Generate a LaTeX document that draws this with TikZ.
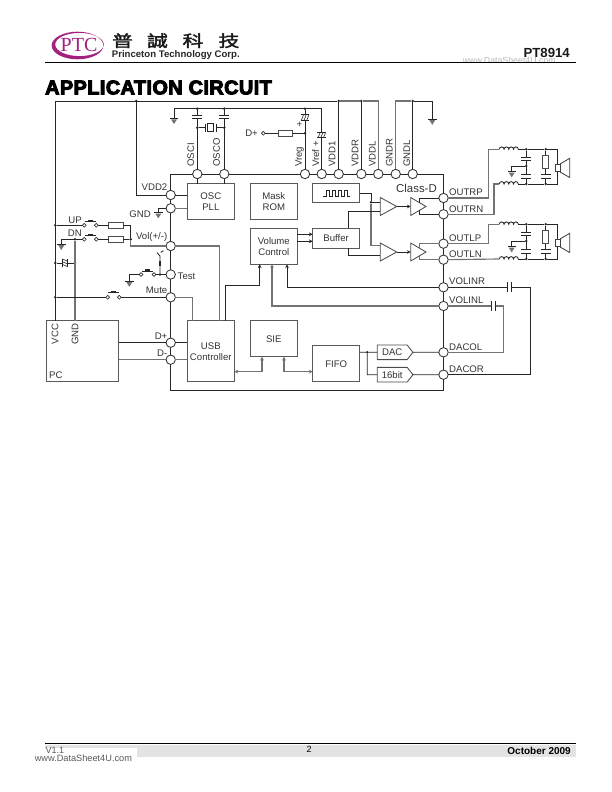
\documentclass[tikz,border=0pt]{standalone}
\usepackage{fontspec}
\setmainfont{Liberation Sans}
\newfontfamily\cjkfont[FakeBold=2]{Noto Sans CJK TC}
\newfontfamily\titlefont[BoldFeatures={FakeBold=5},LetterSpace=2.4]{Liberation Sans}
\usetikzlibrary{arrows.meta,shapes.symbols}
\newcommand{\lblfont}{\fontsize{9.6}{11}\selectfont}
\definecolor{logomag}{HTML}{A3217F}
\tikzset{
	wire/.style={draw=black!85,line width=0.85pt},
	greywire/.style={draw=black!55,line width=1.15pt},
	sig/.style={-{Stealth[length=3.8pt,width=3.8pt]}},
	bothsig/.style={{Stealth[length=3.8pt,width=3.8pt]}-{Stealth[length=3.8pt,width=3.8pt]}},
	block/.style={draw=black!65,line width=1pt,minimum width=47pt,align=center,inner sep=0pt,outer sep=0pt,font=\lblfont,text=black!80},
	pin/.style={circle,draw=black!80,fill=white,line width=0.85pt,minimum size=9.4pt,inner sep=0pt,outer sep=0pt},
	lbl/.style={font=\lblfont,inner sep=0pt,text=black!80},
	dot/.style={circle,fill=black!85,minimum size=2.8pt,inner sep=0pt,outer sep=0pt},
	contact/.style={circle,draw=black!80,fill=white,line width=0.65pt,minimum size=3.8pt,inner sep=0pt,outer sep=0pt},
	res/.style={draw=black!70,fill=white,line width=0.85pt,minimum width=14.5pt,minimum height=6.2pt,inner sep=0pt,outer sep=0pt},
	shaper/.style={signal,signal to=east,signal pointer angle=104,draw=black!70,line width=0.85pt,fill=white,minimum width=35.7pt,minimum height=14.6pt,inner sep=0pt,outer sep=0pt,font=\lblfont,text=black!80},
	cap/.pic={
		\fill[white] (-5,-1.9) rectangle (5,1.9);
		\draw[wire] (-5,-1.9)--(5,-1.9) (-5,1.9)--(5,1.9);
	},
	hatchcap/.pic={
		\fill[white] (-4.4,-2.8) rectangle (4.4,2.8);
		\draw[wire] (-4.4,-2.8)--(4.4,-2.8) (-4.4,2.8)--(4.4,2.8);
		\draw[wire,line width=0.6pt] (-3.6,2.8)--(-1.4,-2.8) (-0.9,2.8)--(1.3,-2.8) (1.8,2.8)--(4,-2.8);
	},
	gndsym/.pic={
		\draw[wire] (-4.2,0)--(4.2,0);
		\fill[black!55] (-3,1)--(3,1)--(0,5.8)--cycle;
	},
	pushbar/.pic={
		\draw[wire,line width=0.6pt] (-5.5,0)--(5.5,0);
		\fill[black!85] (-2.6,-1.8) rectangle (2.6,0);
	},
	coil/.pic={
		\draw[wire] (-9.5,0) arc [start angle=180,end angle=0,radius=2.375pt]
			arc [start angle=180,end angle=0,radius=2.375pt]
			arc [start angle=180,end angle=0,radius=2.375pt]
			arc [start angle=180,end angle=0,radius=2.375pt];
	},
	crystal/.pic={
		\fill[white] (-5.5,-4) rectangle (5.5,4);
		\draw[wire] (-5.3,-4)--(-5.3,4) (5.3,-4)--(5.3,4);
		\draw[wire] (-3,-3.9) rectangle (3,3.9);
	}
}
\begin{document}
\begin{tikzpicture}[x=1pt,y=-1pt]

		\useasboundingbox (0,0) rectangle (612,792);

		\fill[logomag,even odd rule] (77.5,45.5) ellipse [x radius=25.8pt,y radius=13.8pt] (79.5,44.5) ellipse [x radius=24.3pt,y radius=11.6pt];
		\node[inner sep=0pt,text=logomag] (logo) at (79,45) {\fontspec{Liberation Serif}\fontsize{20}{20}\selectfont PTC};
		\foreach \cname/\cx/\ctext in {puA/122.5/普,puB/157.5/誠,puC/193/科,puD/229/技}{
			\node[inner sep=0pt,text=black!90,xscale=1.3] (\cname) at (\cx,40.7) {\cjkfont\fontsize{16}{16}\selectfont \ctext};
		}
		\node[anchor=west,inner sep=0pt,text=black!85] (corp) at (111.7,55) {\fontsize{9.6}{10}\selectfont\bfseries Princeton Technology Corp.};
		\node[anchor=east,inner sep=0pt,text=black!90] (part) at (570,52.5) {\fontsize{13.2}{14}\selectfont\bfseries PT8914};
		\node[anchor=east,inner sep=0pt,text=black!28] (markA) at (556,60.8) {\fontsize{8.8}{9}\selectfont www.DataSheet4U.com};
		\coordinate (ruleA) at (45,62.3);
		\coordinate (ruleB) at (576,62.3);
		\draw[black,line width=0.8pt] (ruleA)--(ruleB);
		\node[anchor=west,inner sep=0pt] (title) at (45,87.5) {\titlefont\bfseries\fontsize{19.8}{20}\selectfont APPLICATION CIRCUIT};

		\coordinate (icA) at (170.7,174);
		\coordinate (icB) at (443.5,390.3);
		\draw[wire] (icA) rectangle (icB);

		\foreach \pname/\px in {OSCI/197.3,OSCO/224.3,Vreg/305,Vref/321.7,VDDa/338.7,VDDR/361.3,VDDL/378.3,GNDR/395.7,GNDL/412.7}{
			\node[pin] (\pname) at (\px,174) {};
		}
		\foreach \pname/\py in {VDDb/195,pGND/208.3,Vol/246,Test/274.5,Mute/297.3,Dp/342.7,Dm/359.7}{
			\node[pin] (\pname) at (170.7,\py) {};
		}
		\foreach \pname/\py in {OUTRP/198,OUTRN/214.3,OUTLP/243.7,OUTLN/259.7,VOLINR/287.3,VOLINL/306,DACOL/352.3,DACOR/374.7}{
			\node[pin] (\pname) at (443.5,\py) {};
		}

		\foreach \tname/\tx/\ttext in {tOSCI/190.7/OSCI,tOSCO/216.5/OSCO,tVreg/299.5/Vreg,tVref/315.7/Vref +,tVDDa/332/VDD1,tVDDR/355/VDDR,tVDDL/372.3/VDDL,tGNDR/389.3/GNDR,tGNDL/406.7/GNDL}{
			\node[lbl,rotate=90,anchor=west] (\tname) at (\tx,167) {\ttext};
		}
		\foreach \tname/\ty/\ttext in {tOUTRP/192.3/OUTRP,tOUTRN/209/OUTRN,tOUTLP/237.7/OUTLP,tOUTLN/254.3/OUTLN,tVOLINR/281/VOLINR,tVOLINL/300.3/VOLINL,tDACOL/346.7/DACOL,tDACOR/369/DACOR}{
			\node[lbl,anchor=west] (\tname) at (449,\ty) {\ttext};
		}
		\foreach \tname/\ty/\ttext in {tVDDb/187.3/VDD2,tVol/236.7/{Vol(+/-)},tMute/290.7/Mute,tDp/336/D+,tDm/353.3/D-}{
			\node[lbl,anchor=east] (\tname) at (167.5,\ty) {\ttext};
		}
		\node[lbl,anchor=east] (tGNDp) at (151,214) {GND};
		\node[lbl,anchor=west] (tTest) at (177.5,276) {Test};
		\node[lbl,anchor=east] (tUP) at (82,220) {UP};
		\node[lbl,anchor=east] (tDN) at (82,233.3) {DN};
		\node[lbl,anchor=east] (tDplus) at (258,133.3) {D+};
		\node[lbl] (tPlus) at (299.5,125) {+};
		\node[lbl,anchor=west] (tClass) at (396,188.3) {\fontsize{11.4}{12}\selectfont Class-D};

		\node[block,minimum height=35.7pt] (OSC) at (210.8,201.8) {OSC\\PLL};
		\node[block,minimum height=35.7pt] (Mask) at (273.8,201.8) {Mask\\ROM};
		\node[block,minimum height=18.7pt] (Clock) at (336.2,193.3) {};
		\node[block,minimum height=36pt] (Volume) at (273.8,246.3) {Volume\\Control};
		\node[block,minimum height=20pt] (Buffer) at (336.2,238.3) {Buffer};
		\node[block,minimum height=61pt] (USB) at (210.8,351.2) {USB\\Controller};
		\node[block,minimum height=36pt] (SIE) at (273.8,338.7) {SIE};
		\node[block,minimum height=36pt] (FIFO) at (336.2,363.7) {FIFO};
		\node[block,minimum width=72.4pt,minimum height=61pt] (PC) at (82.5,351.2) {};
		\node[lbl,rotate=90] (tVCC) at (55,334) {VCC};
		\node[lbl,rotate=90] (tGND) at (75,334) {GND};
		\node[lbl,anchor=west] (tPC) at (49,375) {PC};
		\node[shaper] (DAC) at (392.2,352.3) {DAC\hspace{3pt}};
		\node[shaper] (Bit) at (392.2,374.7) {16bit\hspace{3pt}};

		\draw[wire,line width=0.7pt] (323.3,196)--(326,196)--(326,190.7)--(329,190.7)--(329,196)--(332,196)--(332,190.7)--(335,190.7)--(335,196)--(338,196)--(338,190.7)--(341,190.7)--(341,196)--(344,196)--(344,190.7)--(347,190.7)--(347,196)--(350,196);

		\coordinate (vccTop) at (55.3,101);
		\coordinate (gndTop) at (395.7,101);
		\coordinate (gndTopR) at (432.3,101);
		\coordinate (gndTopS) at (432.3,119);
		\coordinate (rail) at (174,108.7);
		\coordinate (railS) at (174,118.3);
		\node[dot] (dVDDb) at (136.3,101) {};
		\node[dot] (dVDDa) at (338.7,101) {};
		\node[dot] (dVDDR) at (361.3,101) {};
		\node[dot] (dGNDL) at (412.7,101) {};
		\node[dot] (dOSCI) at (197.3,108.7) {};
		\node[dot] (dOSCO) at (224.3,108.7) {};
		\node[dot] (dVreg) at (305,108.7) {};
		\node[dot] (dXa) at (197.3,127.7) {};
		\node[dot] (dXb) at (224.3,127.7) {};
		\node[dot] (dDp) at (305,133.3) {};
		\node[contact] (cDp) at (263.3,133.3) {};
		\node[res] (rDp) at (285.5,133.3) {};

		\draw[wire] (PC.north-|vccTop)--(vccTop)--(dVDDa);
		\draw[greywire] (dVDDa)--(dVDDR)--(VDDL|-vccTop)--(VDDL);
		\draw[wire] (dVDDb)--(dVDDb|-VDDb)--(VDDb);
		\draw[wire] (dVDDa)--(VDDa);
		\draw[wire] (dVDDR)--(VDDR);
		\draw[greywire] (GNDR)--(gndTop)--(dGNDL);
		\draw[wire] (dGNDL)--(gndTopR)--(gndTopS);
		\draw[wire] (dGNDL)--(GNDL);
		\draw[wire] (railS)--(rail)--(Vref|-rail)--(Vref);
		\draw[wire] (dOSCI)--(OSCI);
		\draw[wire] (dOSCO)--(OSCO);
		\draw[wire] (dVreg)--(Vreg);
		\draw[wire] (dXa)--(dXb);
		\draw[wire] (cDp)--(rDp)--(dDp);
		\draw[wire] (OSCI)--(OSCI|-OSC.north);
		\draw[wire] (OSCO)--(OSCO|-OSC.north);
		\draw[wire] (VDDb)--(VDDb-|OSC.west);
		\draw[greywire] (pGND)--(pGND-|OSC.west);
		\pic at (197.3,117) {cap};
		\pic at (224.3,117) {cap};
		\pic at (210.7,127.7) {crystal};
		\pic at (305,117.3) {hatchcap};
		\pic at (321.7,135) {hatchcap};
		\pic at (railS) {gndsym};
		\pic at (gndTopS) {gndsym};

		\coordinate (gp) at (158.3,208.3);
		\coordinate (gpS) at (158.3,212.5);
		\draw[wire] (pGND)--(gp)--(gpS);
		\pic at (gpS) {gndsym};

		\node[dot] (dUP) at (55.3,225.3) {};
		\node[dot] (dCapL) at (55.3,263) {};
		\node[dot] (dMute) at (55.3,297.3) {};
		\node[dot] (dDN) at (75,239.3) {};
		\node[dot] (dCapR) at (75,263) {};
		\node[dot] (dVol) at (130.7,239.3) {};
		\node[contact] (cUPa) at (84.3,225.3) {};
		\node[contact] (cUPb) at (96.3,225.3) {};
		\node[contact] (cDNa) at (84.3,239.3) {};
		\node[contact] (cDNb) at (96.3,239.3) {};
		\node[contact] (cTesta) at (141,274.5) {};
		\node[contact] (cTestb) at (154,274.5) {};
		\node[contact] (cMutea) at (107.7,297.3) {};
		\node[contact] (cMuteb) at (119.3,297.3) {};
		\node[res] (rUP) at (115.8,225.3) {};
		\node[res] (rDN) at (115.8,239.3) {};
		\node[dot] (dTest) at (160,274.5) {};
		\coordinate (volT) at (130.7,225.3);
		\coordinate (volB) at (130.7,246);
		\coordinate (gDN) at (61.3,239.3);
		\coordinate (gDNs) at (61.3,244.2);
		\coordinate (gTest) at (129.3,274.5);
		\coordinate (gTests) at (129.3,281);
		\coordinate (jmpA) at (160,256);
		\coordinate (jmpB) at (157,252.6);
		\coordinate (jmpC) at (160.8,252.4);
		\coordinate (jmpD) at (163.4,250.6);

		\draw[greywire] (dDN)--(PC.north-|dDN);
		\draw[wire] (dUP)--(cUPa);
		\draw[wire] (cUPb)--(rUP)--(volT)--(dVol);
		\draw[greywire] (dVol)--(volB)--(Vol);
		\draw[wire] (gDNs)--(gDN)--(cDNa);
		\draw[wire] (cDNb)--(rDN)--(dVol);
		\draw[wire] (dCapL)--(dCapR);
		\draw[wire] (dMute)--(cMutea);
		\draw[wire] (cMuteb)--(Mute);
		\draw[wire] (Test)--(dTest)--(cTestb);
		\draw[wire] (cTesta)--(gTest)--(gTests);
		\draw[wire] (dTest)--(jmpA)--(jmpB);
		\draw[wire] (jmpC)--(jmpD);
		\fill[black!85] (159,261) rectangle (161,266);
		\pic[rotate=90] at (65,263) {hatchcap};
		\pic at (gDNs) {gndsym};
		\pic at (gTests) {gndsym};
		\pic at (90.3,221.3) {pushbar};
		\pic at (90.3,235.3) {pushbar};
		\pic at (147.5,270.8) {pushbar};
		\pic at (113.5,292.5) {pushbar};

		\coordinate (usbM) at (192.7,320.7);
		\coordinate (usbV) at (219.3,320.7);
		\coordinate (usbU) at (225,320.7);
		\coordinate (volA) at (259.7,285.3);
		\coordinate (inL) at (272,264.3);
		\coordinate (inR) at (287,264.3);
		\coordinate (bufA) at (312.7,234.3);
		\coordinate (bufB) at (312.7,241.3);
		\coordinate (sieL) at (262,371.7);
		\coordinate (sieR) at (284,371.7);

		\draw[greywire] (Vol)-|(usbV);
		\draw[greywire] (Mute)-|(usbM);
		\draw[wire] (usbU)|-(volA);
		\draw[wire,sig] (volA)--(volA|-Volume.south);
		\draw[greywire,sig] (VOLINL)-|(inL);
		\draw[wire,sig] (VOLINR)-|(inR);
		\draw[wire,sig] (Volume.east|-bufA)--(bufA);
		\draw[wire,sig] (Volume.east|-bufB)--(bufB);
		\draw[wire] (PC.east|-Dp)--(Dp);
		\draw[wire] (Dp)--(Dp-|USB.west);
		\draw[greywire] (PC.east|-Dm)--(Dm);
		\draw[greywire] (Dm)--(Dm-|USB.west);
		\draw[greywire,bothsig] (USB.east|-sieL)--(sieL)--(sieL|-SIE.south);
		\draw[greywire,bothsig] (sieR|-SIE.south)--(sieR)--(sieR-|FIFO.west);

		\foreach \an/\ay in {R/206.5,L/252}{
			\coordinate (amp\an) at (380.3,\ay);
			\coordinate (ampTip\an) at (396.7,\ay);
			\coordinate (drv\an) at (410.7,\ay);
			\draw[wire,sig] (ampTip\an)--(drv\an);
			\draw[draw=black!70,line width=0.85pt] (380.3,\ay-9)--(ampTip\an)--(380.3,\ay+9)--cycle;
			\draw[draw=black!70,line width=0.85pt] (410.7,\ay-9)--(426,\ay)--(410.7,\ay+9)--cycle;
		}
		\coordinate (clkJ) at (371,193.3);
		\coordinate (clkB) at (371,245.3);
		\coordinate (ampRa) at (380.3,202.3);
		\coordinate (ampLa) at (380.3,245.3);
		\coordinate (ampRb) at (380.3,211);
		\coordinate (ampLb) at (380.3,255.3);
		\coordinate (bufT) at (348.3,211);
		\coordinate (bufD) at (348.3,255.3);
		\coordinate (stubRP) at (419.3,202.6);
		\coordinate (stubRN) at (419.3,210.4);
		\coordinate (stubLP) at (419.3,248.1);
		\coordinate (stubLN) at (419.3,255.9);
		\node[dot] (dClk) at (371,202.3) {};
		\draw[wire] (Clock.east|-clkJ)--(clkJ)--(dClk);
		\draw[greywire] (dClk)--(clkB)--(ampLa);
		\draw[wire] (dClk)--(ampRa);
		\draw[wire] (Buffer.north-|bufT)--(bufT)--(ampRb);
		\draw[wire] (Buffer.south-|bufD)--(bufD)--(ampLb);
		\draw[wire] (stubRP)|-(OUTRP);
		\draw[wire] (stubRN)|-(OUTRN);
		\draw[greywire] (stubLP)|-(OUTLP);
		\draw[greywire] (stubLN)|-(OUTLN);

		\foreach \oy/\sn in {0/R,75/L}{
			\begin{scope}[shift={(0,\oy)}]
				\coordinate (coilTa\sn) at (499.3,149.3);
				\coordinate (coilTb\sn) at (518.3,149.3);
				\coordinate (coilBa\sn) at (499.3,184);
				\coordinate (coilBb\sn) at (518.3,184);
				\coordinate (spkT\sn) at (557.7,149.3);
				\coordinate (spkB\sn) at (557.7,184);
				\coordinate (gS\sn) at (511.7,166);
				\coordinate (gSs\sn) at (511.7,171.5);
				\node[dot] (dA\sn) at (526.3,149.3) {};
				\node[dot] (dB\sn) at (545.7,149.3) {};
				\node[dot] (dC\sn) at (526.3,184) {};
				\node[dot] (dD\sn) at (545.7,184) {};
				\node[dot] (dE\sn) at (526.3,166) {};
				\node[res,minimum width=6.4pt,minimum height=13.7pt] (rS\sn) at (545.7,162) {};
				\node[draw=black!75,fill=white,line width=0.85pt,minimum width=4.7pt,minimum height=7.7pt,inner sep=0pt,outer sep=0pt] (spk\sn) at (557.7,168) {};
				\draw[wire] (coilTb\sn)--(dA\sn)--(dB\sn)--(spkT\sn)--(spk\sn);
				\draw[wire] (coilBb\sn)--(dC\sn)--(dD\sn)--(spkB\sn)--(spk\sn);
				\draw[wire] (dA\sn)--(dE\sn)--(dC\sn);
				\draw[wire] (dB\sn)--(rS\sn)--(dD\sn);
				\draw[wire] (dE\sn)--(gS\sn)--(gSs\sn);
				\draw[draw=black!75,line width=0.85pt] (560,164)--(569.7,158.3)--(569.7,177.5)--(560,172);
				\pic at (526.3,159) {cap};
				\pic at (526.3,176.3) {cap};
				\pic at (545.7,176.7) {cap};
				\pic at (508.8,149.3) {coil};
				\pic at (508.8,184) {coil};
				\pic at (gSs\sn) {gndsym};
			\end{scope}
		}
		\coordinate (elbowRP) at (488.3,149.3);
		\coordinate (elbowRN) at (494,184);
		\coordinate (elbowLP) at (488.3,224.3);
		\draw[greywire] (OUTRP)-|(elbowRP)--(coilTaR);
		\draw[greywire] (OUTRN)-|(elbowRN)--(coilBaR);
		\draw[greywire] (OUTLP)-|(elbowLP)--(coilTaL);
		\draw[greywire] (OUTLN)--(coilBaL);

		\coordinate (capR) at (530.7,287.3);
		\coordinate (capL) at (503.7,306);
		\draw[wire] (VOLINR)--(capR)|-(DACOR);
		\draw[greywire] (VOLINL)--(capL)|-(DACOL);
		\pic[rotate=90] at (509.2,287.3) {cap};
		\pic[rotate=90] at (493.8,306) {cap};

		\coordinate (bitC) at (367.3,374.7);
		\node[dot] (dFIFO) at (367.3,352.3) {};
		\draw[wire] (FIFO.east|-DAC)--(dFIFO)--(DAC);
		\draw[wire] (dFIFO)--(bitC)--(Bit);
		\draw[wire] (DAC)--(DACOL);
		\draw[wire] (Bit)--(DACOR);

		\fill[black!11] (45,745) rectangle (576,757);
		\fill[white] (38,748) rectangle (137,765);
		\coordinate (footA) at (45,743.7);
		\coordinate (footB) at (576,743.7);
		\draw[black,line width=0.8pt] (footA)--(footB);
		\node[anchor=west,inner sep=0pt,text=black!65] (ver) at (45.5,750.7) {\fontsize{9}{10}\selectfont V1.1};
		\node[inner sep=0pt] (pageno) at (309,749.6) {\fontsize{9}{10}\selectfont 2};
		\node[anchor=east,inner sep=0pt] (date) at (571,750.7) {\fontsize{10}{10}\selectfont\bfseries October 2009};
		\node[anchor=west,inner sep=0pt,text=black!65] (markB) at (34.6,758.7) {\fontsize{9.2}{10}\selectfont www.DataSheet4U.com};

	\end{tikzpicture}
\end{document}
